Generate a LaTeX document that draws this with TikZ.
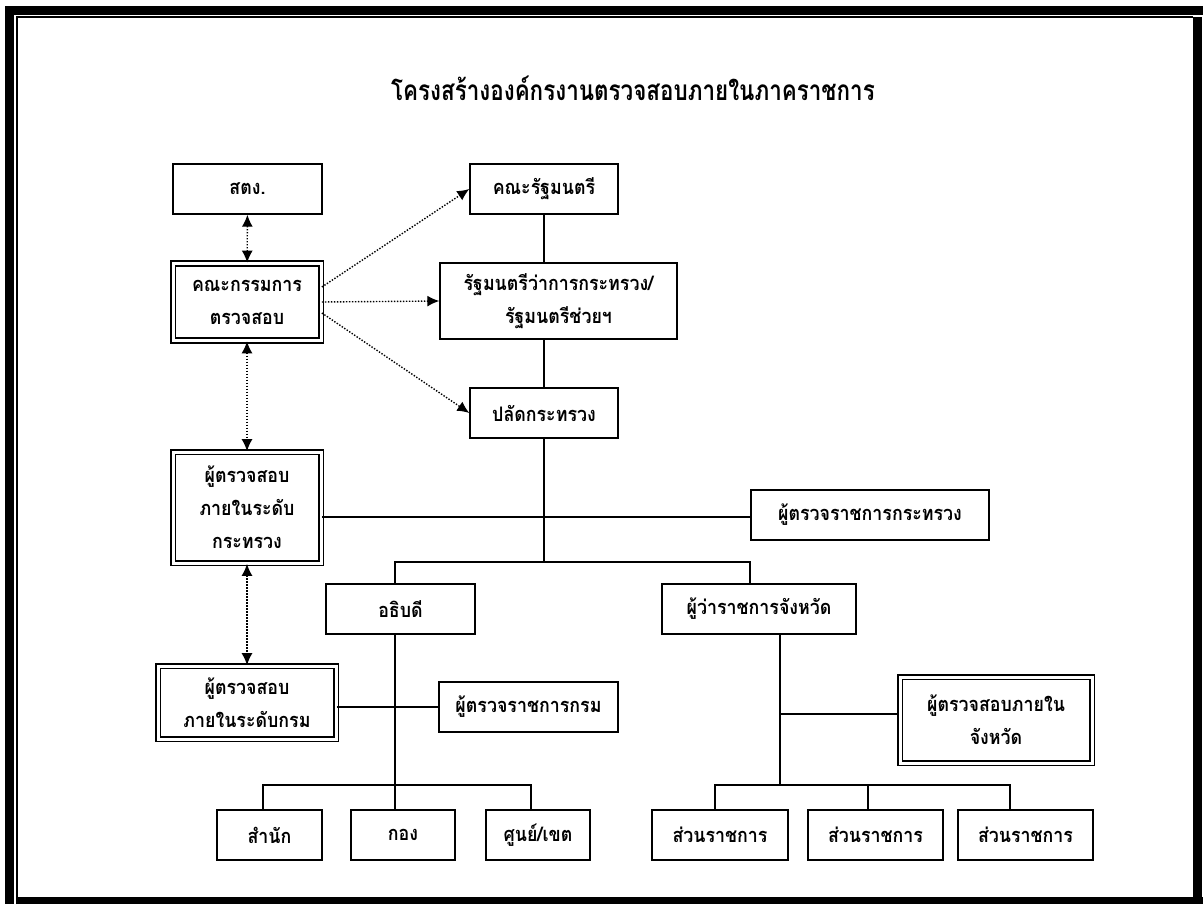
\documentclass[tikz,border=0pt]{standalone}
\usepackage{fontspec}
\newfontfamily\thaifont[Script=Thai, FakeStretch=0.89]{Loma}
\newfontfamily\thaititle[Script=Thai, FakeStretch=0.8]{Loma}
\usetikzlibrary{arrows.meta,calc}

\tikzset{
  unit/.style={draw, line width=0.7pt, fill=white, align=center,
    inner sep=0pt, font=\thaifont\bfseries\fontsize{10}{16.5}\selectfont},
  dunit/.style={unit, line width=0.85pt, double, double distance=1.5pt},
  link/.style={line width=0.7pt},
  dlink/.style={line width=0.7pt, dash pattern=on 0.7pt off 0.8pt},
  tip/.style={-{Latex[length=6pt,width=5.5pt]}},
  twotip/.style={{Latex[length=6pt,width=5.5pt]}-{Latex[length=6pt,width=5.5pt]}},
}

\begin{document}
\begin{tikzpicture}[x=0.5pt, y=-0.5pt]
  \def\boxH{25pt}
  \useasboundingbox (0,0) rectangle (1203,904);

  % Frame
  \fill (5,6) rectangle (14,904);
  \fill (5,6) rectangle (1203,15);
  \draw[line width=1pt] (17,904) -- (17,17) -- (1193,17);
  \fill (1193,17) rectangle (1202,904);
  \fill (17,897) rectangle (1203,904);

  % Title
  \node (title) at (633,88) {\thaititle\bfseries\fontsize{14}{17}\selectfont
    โครงสร้างองค์กรงานตรวจสอบภายในภาคราชการ};

  % Audit section: nodes
  \node[unit, minimum width=74.5pt, minimum height=\boxH] (sto) at (247.5,189) {สตง.};
  \node[dunit, minimum width=74pt, minimum height=38.5pt] (kk) at (247,302)
    {คณะกรรมการ\\ตรวจสอบ};
  \node[dunit, minimum width=74pt, minimum height=55.5pt] (pmin) at (247,507.5)
    {ผู้ตรวจสอบ\\ภายในระดับ\\กระทรวง};
  \node[dunit, minimum width=89pt, minimum height=36.5pt] (pdep) at (247,702.5)
    {ผู้ตรวจสอบ\\ภายในระดับกรม};

  % Government section: nodes
  \node[unit, minimum width=74pt, minimum height=\boxH] (cab) at (544,189) {คณะรัฐมนตรี};
  \node[unit, minimum width=118.5pt, minimum height=38pt] (mins) at (558.5,301)
    {รัฐมนตรีว่าการกระทรวง/\\รัฐมนตรีช่วยฯ};
  \node[unit, minimum width=74pt, minimum height=\boxH] (ps) at (544,413) {ปลัดกระทรวง};
  \node[unit, minimum width=119pt, minimum height=\boxH] (insmin) at (870,515)
    {ผู้ตรวจราชการกระทรวง};
  \node[unit, minimum width=74.5pt, minimum height=\boxH] (dg) at (400.5,609) {อธิบดี};
  \node[unit, minimum width=97pt, minimum height=\boxH] (gov) at (759,609)
    {ผู้ว่าราชการจังหวัด};
  \node[unit, minimum width=89.5pt, minimum height=\boxH] (insdep) at (528.5,707)
    {ผู้ตรวจราชการกรม};
  \node[dunit, minimum width=96pt, minimum height=43pt] (prov) at (996,720)
    {ผู้ตรวจสอบภายใน\\จังหวัด};

  % Unit section: nodes
  \node[unit, minimum width=52.5pt, minimum height=\boxH] (bureau) at (269.5,835) {สำนัก};
  \node[unit, minimum width=52pt, minimum height=\boxH] (div) at (403,835) {กอง};
  \node[unit, minimum width=52pt, minimum height=\boxH] (ctr) at (538,835) {ศูนย์/เขต};
  \node[unit, minimum width=68pt, minimum height=\boxH] (sec1) at (720,835) {ส่วนราชการ};
  \node[unit, minimum width=67.5pt, minimum height=\boxH] (sec2) at (875.5,835) {ส่วนราชการ};
  \node[unit, minimum width=67.5pt, minimum height=\boxH] (sec3) at (1025.5,835) {ส่วนราชการ};

  \coordinate (j1) at (544,562);
  \coordinate (j2) at (395,785);
  \coordinate (j3) at (780,785);

  % Audit section: connections
  \draw[dlink, twotip] (sto) -- (kk);
  \draw[dlink, twotip] (kk) -- (pmin);
  \draw[dlink, twotip] (pmin) -- (pdep);
  \draw[dlink, tip] ([yshift=7.5pt]kk.east) -- (cab.west);
  \draw[dlink, tip] (kk.east) -- (mins.west);
  \draw[dlink, tip] ([yshift=-5.5pt]kk.east) -- (ps.west);

  % Government section: connections
  \draw[link] (cab.south) -- (cab.south |- mins.north);
  \draw[link] (ps.north) -- (ps.north |- mins.south);
  \draw[link] (ps.south) -- (j1);
  \draw[link] ([yshift=-1pt]insmin.west -| pmin.east) -- ([yshift=-1pt]insmin.west);
  \draw[link] (j1) -| ([xshift=-2.75pt]dg.north);
  \draw[link] (j1) -| ([xshift=-4.5pt]gov.north);
  \draw[link] ([xshift=-2.75pt]dg.south) -- (j2);
  \draw[link] (insdep.west -| pdep.east) -- (insdep.west);
  \draw[link] ([xshift=10.5pt]gov.south) -- (j3);
  \draw[link] ([yshift=3pt]prov.west -| j3) -- ([yshift=3pt]prov.west);

  % Unit section: connections
  \draw[link] (j2) -| ([xshift=-3.25pt]bureau.north);
  \draw[link] (j2) -- (div.north -| j2);
  \draw[link] (j2) -| ([xshift=-3.5pt]ctr.north);
  \draw[link] (j3) -| ([xshift=-2.5pt]sec1.north);
  \draw[link] (j3) -| ([xshift=-3.75pt]sec2.north);
  \draw[link] (j3) -| ([xshift=-7.75pt]sec3.north);
\end{tikzpicture}
\end{document}
